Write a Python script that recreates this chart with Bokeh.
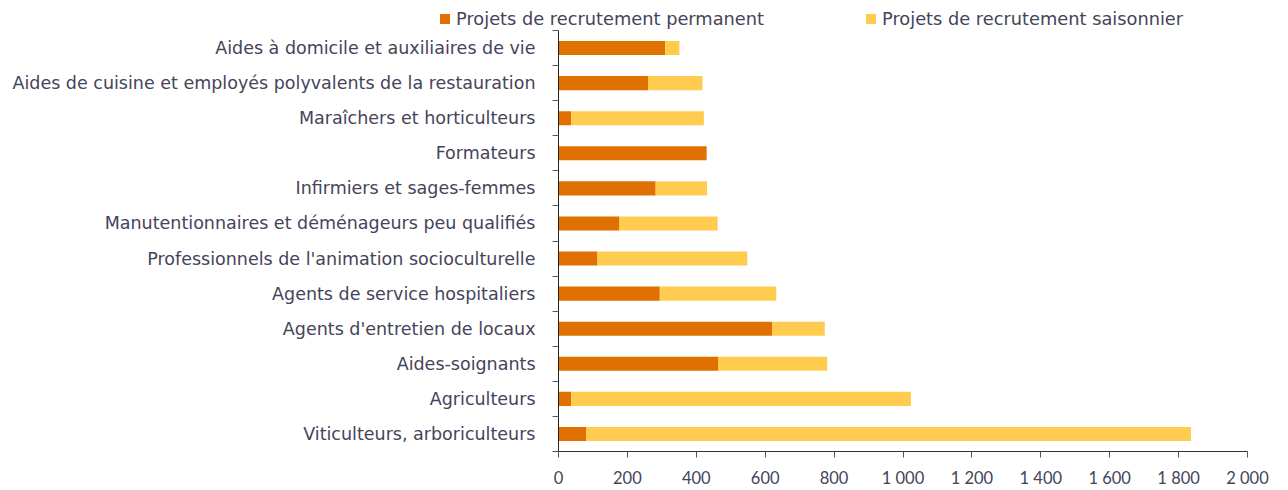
from bokeh.plotting import figure
from bokeh.models import FixedTicker, ColumnDataSource, Div
from bokeh.layouts import column
from bokeh.embed import file_html
from bokeh.resources import INLINE

categories = [
    "Viticulteurs, arboriculteurs",
    "Agriculteurs",
    "Aides-soignants",
    "Agents d'entretien de locaux",
    "Agents de service hospitaliers",
    "Professionnels de l'animation socioculturelle",
    "Manutentionnaires et déménageurs peu qualifiés",
    "Infirmiers et sages-femmes",
    "Formateurs",
    "Maraîchers et horticulteurs",
    "Aides de cuisine et employés polyvalents de la restauration",
    "Aides à domicile et auxiliaires de vie",
]
permanent = [81, 37, 463, 621, 294, 113, 177, 282, 430, 37, 260, 310]
saisonnier = [1755, 986, 317, 152, 338, 435, 285, 149, 0, 385, 158, 41]
x_ticks = [0, 200, 400, 600, 800, 1000, 1200, 1400, 1600, 1800, 2000]
series_names = ["Projets de recrutement permanent", "Projets de recrutement saisonnier"]

FONT = "DejaVu Sans"
TXT = "#44445a"
ORANGE = "#E07000"
YELLOW = "#FFCC50"
colors = [ORANGE, YELLOW]

n = len(categories)
ys = list(range(n))
total = [a + b for a, b in zip(permanent, saisonnier)]
src = ColumnDataSource(dict(y=ys, perm=permanent, tot=total, zero=[0] * n))

# ---- legend strip (HTML) ----
leg_x = [440, 866]
parts = []
for lx, name, col in zip(leg_x, series_names, colors):
    parts.append(
        f'<span style="position:absolute;left:{lx}px;top:14px;width:10px;height:10px;'
        f'background:{col};"></span>'
        f'<span style="position:absolute;left:{lx + 16}px;top:9px;line-height:20px;'
        f'white-space:nowrap;">{name}</span>'
    )
html = ('<div style="position:relative;width:1288px;height:30px;'
        f"font-family:'{FONT}';font-size:17.8px;color:{TXT};\">" + "".join(parts) + "</div>")
lg = Div(text=html, width=1288, height=30, styles={"margin": "0", "padding": "0"})

# ---- main chart ----
p = figure(width=1288, height=460, output_backend="svg", toolbar_location=None,
           x_range=(0, 2000), y_range=(-0.5, n - 0.5),
           min_border_left=558, min_border_right=41, min_border_top=0, min_border_bottom=39)
p.outline_line_color = None
p.xgrid.visible = False
p.ygrid.visible = False

p.hbar(y="y", left="zero", right="perm", height=0.4, source=src,
       fill_color=ORANGE, line_color=None)
p.hbar(y="y", left="perm", right="tot", height=0.4, source=src,
       fill_color=YELLOW, line_color=None)

xa = p.xaxis[0]
xa.ticker = FixedTicker(ticks=x_ticks)
xa.major_label_overrides = {t: f"{t:,}".replace(",", " ") for t in x_ticks}
xa.major_tick_out = 6
xa.major_tick_in = 0
xa.minor_tick_out = 0
xa.minor_tick_in = 0
xa.axis_line_color = "#333333"
xa.major_tick_line_color = "#555555"
xa.major_label_text_font = "Lato"
xa.major_label_text_font_size = "16.5px"
xa.major_label_text_color = TXT
xa.major_label_standoff = 10

ya = p.yaxis[0]
ya.ticker = FixedTicker(ticks=ys, minor_ticks=[i - 0.5 for i in range(n + 1)])
ya.major_label_overrides = {i: c for i, c in enumerate(categories)}
ya.major_tick_out = 0
ya.major_tick_in = 0
ya.minor_tick_out = 6
ya.minor_tick_in = 0
ya.minor_tick_line_color = "#555555"
ya.axis_line_color = "#222222"
ya.major_label_text_font = FONT
ya.major_label_text_font_size = "17.5px"
ya.major_label_text_color = TXT
ya.major_label_standoff = 17

layout = column(lg, p, spacing=0)
open("out.html", "w").write(file_html(layout, INLINE))
